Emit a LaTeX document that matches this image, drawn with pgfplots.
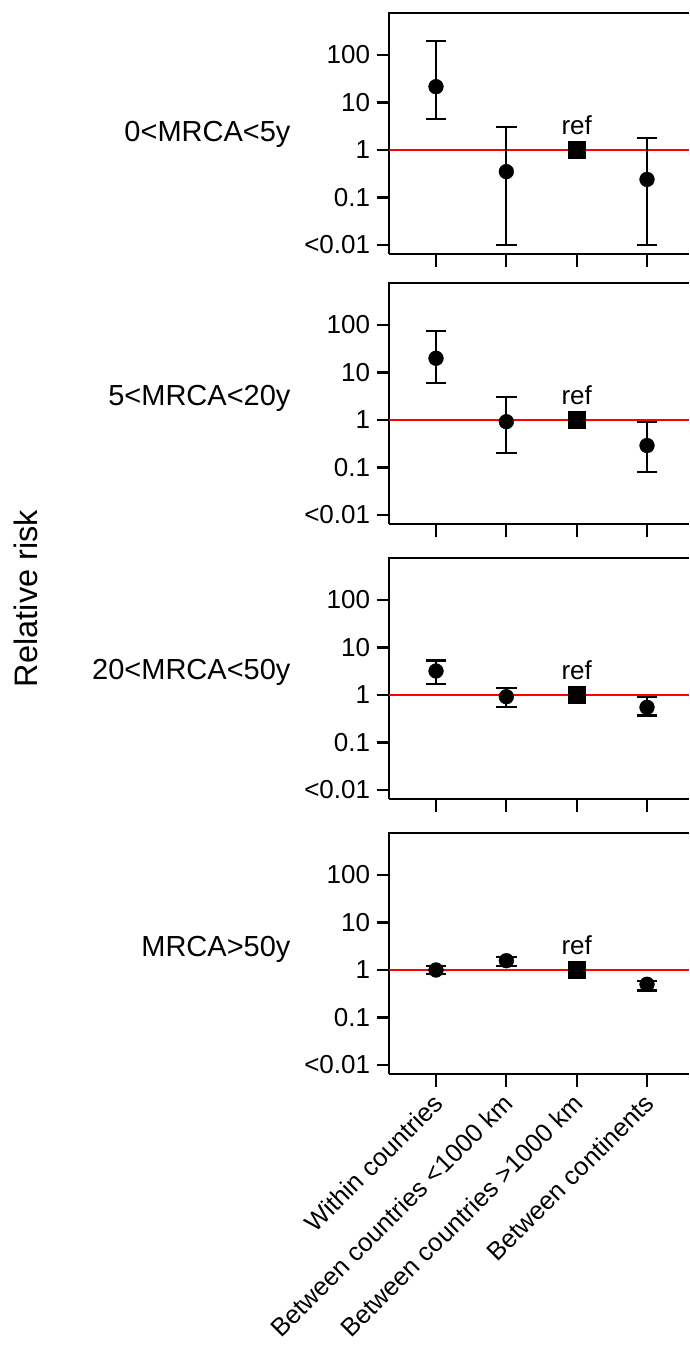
\documentclass[border=0pt]{standalone}
\usepackage{pgfplots}
\pgfplotsset{compat=1.18}
\usepackage{fontspec}
\setmainfont{Liberation Sans}

\pgfplotsset{
  refline/.style={red, line width=2pt},
  ci/.style={black, line width=2.2pt, mark=-, mark size=10.4pt, unbounded coords=jump, mark options={line width=2.2pt}},
  est/.style={only marks, mark=*, mark size=7.4pt, mark options={fill=black, draw=black, line width=0.4pt}},
  refpt/.style={only marks, mark=square*, mark size=8.3pt, mark options={fill=black, draw=black}},
}
\newcommand\topline{\draw[line width=2.2pt] ([xshift=-1.1pt]rel axis cs:0,1) -- (rel axis cs:1,1);}
\newcommand\reflabel{\node[anchor=base, font=\fontsize{26}{30}\selectfont] at ([yshift=15pt]axis cs:2,1) {ref};}

\begin{document}
\begin{tikzpicture}
\path[use as bounding box] (0,0) rectangle (689pt,-1350pt);

% Panel 1
\begin{axis}[at={(389.3pt,-254pt)}, anchor=south west,
    scale only axis, width=299.7pt, height=241pt,
    xmin=-0.664, xmax=3.597,
    ymode=log, ymin=0.00646, ymax=765,
    axis x line*=bottom, axis y line*=left,
    axis line style={line width=2.2pt, -},
    every tick/.style={black, line width=2.2pt},
    major tick length=12.7pt, tick align=outside,
    xtick={0,1,2,3}, xticklabels={},
    ytick={0.01,0.1,1,10,100},
    yticklabels={<0.01,0.1,1,10,100},
    yminorticks=false,
    yticklabel style={font=\fontsize{26}{30}\selectfont, xshift=-3pt},
    clip=false]
\addplot[refline] coordinates {(-0.664,1) (3.597,1)};
\addplot[ci] coordinates {(0,4.5) (0,196) (0,nan) (1,0.01) (1,3.1) (1,nan) (3,0.01) (3,1.8)};
\addplot[est] coordinates {(0,21.5) (1,0.35) (3,0.24)};
\addplot[refpt] coordinates {(2,1)};
\reflabel
\topline
\end{axis}

% Panel 2
\begin{axis}[at={(389.3pt,-524pt)}, anchor=south west,
    scale only axis, width=299.7pt, height=241pt,
    xmin=-0.664, xmax=3.597,
    ymode=log, ymin=0.00646, ymax=765,
    axis x line*=bottom, axis y line*=left,
    axis line style={line width=2.2pt, -},
    every tick/.style={black, line width=2.2pt},
    major tick length=12.7pt, tick align=outside,
    xtick={0,1,2,3}, xticklabels={},
    ytick={0.01,0.1,1,10,100},
    yticklabels={<0.01,0.1,1,10,100},
    yminorticks=false,
    yticklabel style={font=\fontsize{26}{30}\selectfont, xshift=-3pt},
    clip=false]
\addplot[refline] coordinates {(-0.664,1) (3.597,1)};
\addplot[ci] coordinates {(0,5.9) (0,76) (0,nan) (1,0.2) (1,3.0) (1,nan) (3,0.08) (3,0.91)};
\addplot[est] coordinates {(0,19.9) (1,0.92) (3,0.29)};
\addplot[refpt] coordinates {(2,1)};
\reflabel
\topline
\end{axis}

% Panel 3
\begin{axis}[at={(389.3pt,-799pt)}, anchor=south west,
    scale only axis, width=299.7pt, height=241pt,
    xmin=-0.664, xmax=3.597,
    ymode=log, ymin=0.00646, ymax=765,
    axis x line*=bottom, axis y line*=left,
    axis line style={line width=2.2pt, -},
    every tick/.style={black, line width=2.2pt},
    major tick length=12.7pt, tick align=outside,
    xtick={0,1,2,3}, xticklabels={},
    ytick={0.01,0.1,1,10,100},
    yticklabels={<0.01,0.1,1,10,100},
    yminorticks=false,
    yticklabel style={font=\fontsize{26}{30}\selectfont, xshift=-3pt},
    clip=false]
\addplot[refline] coordinates {(-0.664,1) (3.597,1)};
\addplot[ci] coordinates {(0,1.68) (0,5.3) (0,nan) (1,0.55) (1,1.43) (1,nan) (3,0.37) (3,0.91)};
\addplot[est] coordinates {(0,3.2) (1,0.92) (3,0.55)};
\addplot[refpt] coordinates {(2,1)};
\reflabel
\topline
\end{axis}

% Panel 4
\begin{axis}[at={(389.3pt,-1074pt)}, anchor=south west,
    scale only axis, width=299.7pt, height=241pt,
    xmin=-0.664, xmax=3.597,
    ymode=log, ymin=0.00646, ymax=765,
    axis x line*=bottom, axis y line*=left,
    axis line style={line width=2.2pt, -},
    every tick/.style={black, line width=2.2pt},
    major tick length=12.7pt, tick align=outside,
    xtick={0,1,2,3},
    xticklabels={Within countries, Between countries <1000 km, Between countries >1000 km, Between continents},
    xticklabel style={font=\fontsize{25.5}{30}\selectfont, rotate=45, anchor=east, xshift=-4pt, yshift=-10pt},
    ytick={0.01,0.1,1,10,100},
    yticklabels={<0.01,0.1,1,10,100},
    yminorticks=false,
    yticklabel style={font=\fontsize{26}{30}\selectfont, xshift=-3pt},
    clip=false]
\addplot[refline] coordinates {(-0.664,1) (3.597,1)};
\addplot[ci] coordinates {(0,0.82) (0,1.23) (0,nan) (1,1.23) (1,1.9) (1,nan) (3,0.37) (3,0.59)};
\addplot[est] coordinates {(0,1.0) (1,1.57) (3,0.5)};
\addplot[refpt] coordinates {(2,1)};
\reflabel
\topline
\end{axis}

\node[anchor=base east, font=\fontsize{29}{34}\selectfont] at (294pt,-141.7pt) {0<MRCA<5y};
\node[anchor=base east, font=\fontsize{29}{34}\selectfont] at (294pt,-405.7pt) {5<MRCA<20y};
\node[anchor=base east, font=\fontsize{29}{34}\selectfont] at (294pt,-679pt) {20<MRCA<50y};
\node[anchor=base east, font=\fontsize{29}{34}\selectfont] at (294pt,-956.7pt) {MRCA>50y};
\node[anchor=base, rotate=90, font=\fontsize{32.5}{38}\selectfont] at (37pt,-598.5pt) {Relative risk};
\end{tikzpicture}
\end{document}
